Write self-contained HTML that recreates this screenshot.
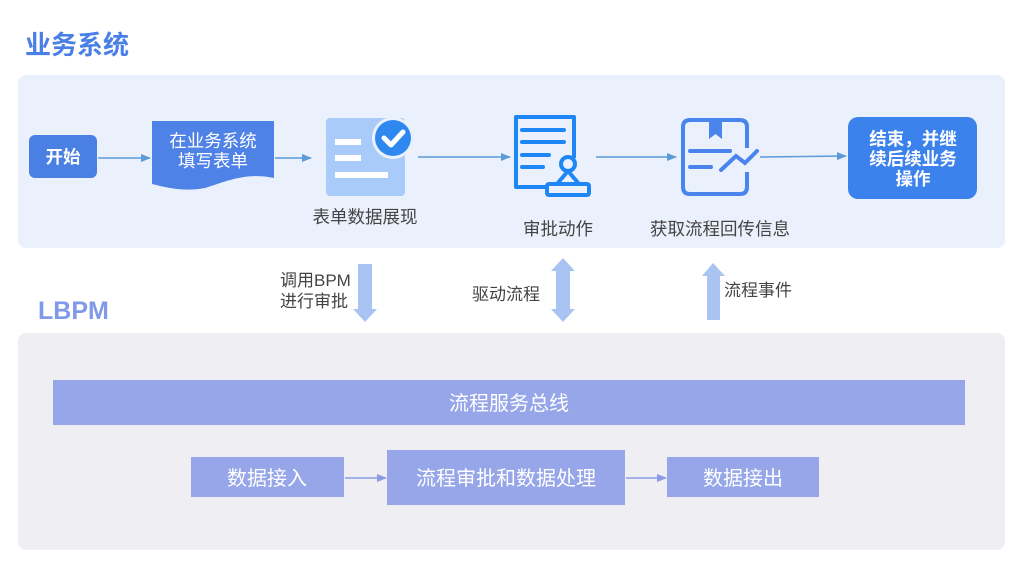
<!DOCTYPE html>
<html><head><meta charset="utf-8"><style>
html,body{margin:0;padding:0;background:#fff;}
svg{display:block;}
text{font-family:"Liberation Sans","Noto Sans CJK SC",sans-serif;}
</style></head><body>
<svg width="1024" height="572" viewBox="0 0 1024 572" xmlns="http://www.w3.org/2000/svg">
<defs>
<marker id="ah" markerWidth="10" markerHeight="10" refX="9" refY="5" orient="auto" markerUnits="userSpaceOnUse">
<path d="M0,1 L10,5 L0,9 Z" fill="#5a9bd8"/></marker>
<marker id="ah2" markerWidth="10" markerHeight="10" refX="9" refY="5" orient="auto" markerUnits="userSpaceOnUse">
<path d="M0,1 L10,5 L0,9 Z" fill="#8a9be6"/></marker>
</defs>
<rect width="1024" height="572" fill="#fff"/>
<text x="25" y="54" font-size="26" font-weight="bold" fill="#4a7fe6">业务系统</text>
<rect x="18" y="75" width="987" height="173" rx="8" fill="#ebf1fc"/>

<rect x="29" y="135" width="68" height="43" rx="6" fill="#4a80e4"/>
<text x="63" y="163" font-size="17.5" font-weight="bold" fill="#fff" text-anchor="middle">开始</text>
<line x1="98" y1="158" x2="150" y2="158" stroke="#5a9bd8" stroke-width="1.5" marker-end="url(#ah)"/>
<path d="M152,121 H274 V178 C245,172 225,182 205,188 C185,192 168,188 152,184 Z" fill="#4f82e6"/>
<text x="213" y="147" font-size="17.5" fill="#fff" text-anchor="middle">在业务系统</text>
<text x="213" y="167" font-size="17.5" fill="#fff" text-anchor="middle">填写表单</text>
<line x1="275" y1="158" x2="311" y2="158" stroke="#5a9bd8" stroke-width="1.5" marker-end="url(#ah)"/>
<rect x="326" y="118" width="79" height="78" rx="4" fill="#a9cbf9"/>
<rect x="335" y="139" width="26" height="6" fill="#fff"/>
<rect x="335" y="155" width="26" height="6" fill="#fff"/>
<rect x="335" y="172" width="53" height="6" fill="#fff"/>
<circle cx="393" cy="138" r="21" fill="#ebf1fc"/>
<circle cx="393" cy="138" r="18" fill="#2f88f0"/>
<path d="M384,138 L391,145 L403,132" stroke="#fff" stroke-width="5" fill="none" stroke-linecap="round" stroke-linejoin="round"/>
<text x="365" y="223" font-size="17.5" fill="#444" text-anchor="middle">表单数据展现</text>
<line x1="418" y1="157" x2="510" y2="157" stroke="#5a9bd8" stroke-width="1.5" marker-end="url(#ah)"/>
<path d="M556,187 H516 V117 H574 V158" stroke="#1f87f5" stroke-width="4" fill="none" stroke-linejoin="round"/>
<g stroke="#1f87f5" stroke-width="4" stroke-linecap="round">
<line x1="522" y1="130" x2="564" y2="130"/><line x1="522" y1="142" x2="564" y2="142"/>
<line x1="522" y1="155" x2="549" y2="155"/><line x1="522" y1="167" x2="543" y2="167"/></g>
<circle cx="568" cy="164" r="7" stroke="#1f87f5" stroke-width="4" fill="#ebf1fc"/>
<path d="M568,171 L557,184 H579 Z" stroke="#1f87f5" stroke-width="4" fill="none" stroke-linejoin="round"/>
<rect x="547" y="184" width="42" height="11" rx="2" stroke="#1f87f5" stroke-width="4" fill="#ebf1fc"/>
<text x="558" y="235" font-size="17.5" fill="#444" text-anchor="middle">审批动作</text>
<line x1="596" y1="157" x2="676" y2="157" stroke="#5a9bd8" stroke-width="1.5" marker-end="url(#ah)"/>
<path d="M747,148 V127 Q747,120 740,120 H690 Q683,120 683,127 V187 Q683,194 690,194 H740 Q747,194 747,187 V172" stroke="#4a85ee" stroke-width="4" fill="none"/>
<path d="M709,120 H722 V139 L715.5,134 L709,139 Z" fill="#4a85ee"/>
<g stroke="#4a85ee" stroke-width="4" stroke-linecap="round" fill="none">
<line x1="690" y1="151" x2="730" y2="151"/><line x1="690" y1="167" x2="711" y2="167"/>
<path d="M721,170 L736,156 L745,163 L757,151"/></g>
<text x="720" y="235" font-size="17.5" fill="#444" text-anchor="middle">获取流程回传信息</text>
<line x1="760" y1="157" x2="846" y2="156" stroke="#5a9bd8" stroke-width="1.5" marker-end="url(#ah)"/>
<rect x="848" y="117" width="129" height="82" rx="10" fill="#3c82ed"/>
<text x="913" y="145" font-size="17.5" font-weight="bold" fill="#fff" text-anchor="middle">结束，并继</text>
<text x="913" y="165" font-size="17.5" font-weight="bold" fill="#fff" text-anchor="middle">续后续业务</text>
<text x="913" y="185" font-size="17.5" font-weight="bold" fill="#fff" text-anchor="middle">操作</text>

<path d="M358,264 H372 V309 H377 L365,322 L353,309 H358 Z" fill="#a9c4f2"/>
<path d="M563,258 L575,271 H570 V309 H575 L563,322 L551,309 H556 V271 H551 Z" fill="#a9c4f2"/>
<path d="M707,320 V276 H702 L713,263 L725,276 H720 V320 Z" fill="#a9c4f2"/>
<text x="280" y="286" font-size="17" fill="#444">调用BPM</text>
<text x="280" y="307" font-size="17" fill="#444">进行审批</text>
<text x="472" y="300" font-size="17" fill="#444">驱动流程</text>
<text x="724" y="296" font-size="17" fill="#444">流程事件</text>

<text x="38" y="319" font-size="25" font-weight="bold" fill="#8099e8">LBPM</text>
<rect x="18" y="333" width="987" height="217" rx="8" fill="#efeef2"/>
<rect x="53" y="380" width="912" height="45" fill="#96a6e8"/>
<text x="509" y="410" font-size="20" fill="#fff" text-anchor="middle">流程服务总线</text>
<rect x="191" y="457" width="153" height="40" fill="#96a6e8"/>
<text x="267" y="485" font-size="20" fill="#fff" text-anchor="middle">数据接入</text>
<line x1="345" y1="478" x2="386" y2="478" stroke="#8a9be6" stroke-width="1.5" marker-end="url(#ah2)"/>
<rect x="387" y="450" width="238" height="55" fill="#96a6e8"/>
<text x="506" y="485" font-size="20" fill="#fff" text-anchor="middle">流程审批和数据处理</text>
<line x1="626" y1="478" x2="666" y2="478" stroke="#8a9be6" stroke-width="1.5" marker-end="url(#ah2)"/>
<rect x="667" y="457" width="152" height="40" fill="#96a6e8"/>
<text x="743" y="485" font-size="20" fill="#fff" text-anchor="middle">数据接出</text>
</svg>
</body></html>
